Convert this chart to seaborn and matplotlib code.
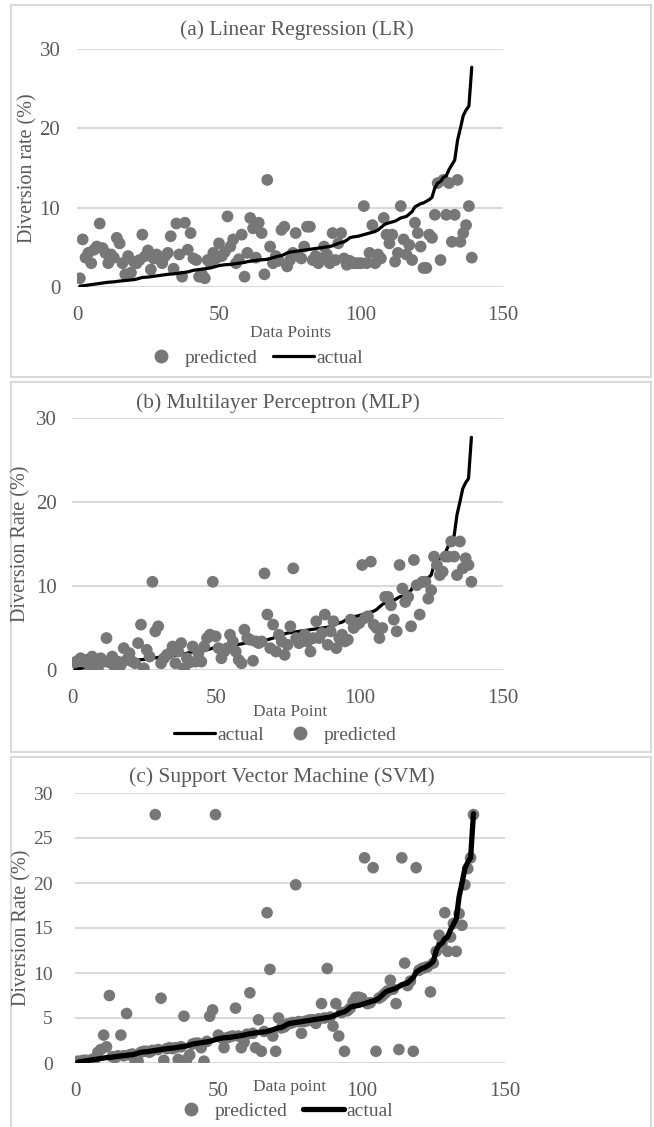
import numpy as np
import pandas as pd
import matplotlib
matplotlib.use("Agg")
import matplotlib.pyplot as plt
from matplotlib.patches import Rectangle
from matplotlib.lines import Line2D
import seaborn as sns

# ---------------- data ----------------
actual = [
    0.1, 0.15, 0.2, 0.25, 0.3, 0.35, 0.4, 0.45, 0.5, 0.55,
    0.6, 0.62, 0.65, 0.7, 0.75, 0.78, 0.8, 0.85, 0.9, 0.92,
    1.0, 1.1, 1.2, 1.22, 1.25, 1.3, 1.35, 1.4, 1.45, 1.5,
    1.55, 1.6, 1.62, 1.65, 1.7, 1.75, 1.8, 1.85, 1.9, 2.0,
    2.1, 2.15, 2.2, 2.25, 2.3, 2.35, 2.4, 2.5, 2.6, 2.7,
    2.75, 2.8, 2.82, 2.85, 2.9, 2.95, 3.0, 3.05, 3.1, 3.2,
    3.25, 3.3, 3.35, 3.4, 3.42, 3.45, 3.5, 3.6, 3.7, 3.8,
    3.9, 3.95, 4.1, 4.3, 4.4, 4.45, 4.5, 4.55, 4.6, 4.65,
    4.7, 4.75, 4.8, 4.85, 4.9, 4.95, 5.0, 5.05, 5.1, 5.2,
    5.35, 5.5, 5.6, 5.7, 5.9, 6.2, 6.3, 6.35, 6.4, 6.5,
    6.6, 6.7, 6.8, 6.9, 7.0, 7.2, 7.5, 7.8, 8.0, 8.1,
    8.2, 8.3, 8.5, 8.7, 8.8, 8.9, 9.2, 9.5, 10.1, 10.3,
    10.5, 10.6, 10.8, 11.0, 11.3, 12.5, 13.1, 13.3, 13.8, 14.0,
    14.8, 15.4, 16.0, 18.5, 20.0, 21.6, 22.3, 22.8, 27.7,
]

lr_pred = [
    1.1, 6.0, 3.7, 4.3, 3.0, 4.7, 5.1, 8.0, 4.9, 4.3,
    3.0, 4.1, 3.7, 6.2, 5.5, 3.0, 1.6, 3.9, 1.8, 3.2,
    3.0, 3.4, 6.6, 3.9, 4.6, 2.2, 3.6, 4.1, 3.5, 3.0,
    3.9, 4.3, 6.4, 2.3, 8.0, 4.1, 1.3, 8.1, 4.7, 6.8,
    3.6, 3.4, 1.3, 1.6, 1.1, 3.4, 3.0, 4.3, 3.6, 5.5,
    3.9, 4.4, 8.9, 5.1, 6.0, 3.0, 3.5, 6.6, 1.3, 4.3,
    8.7, 7.4, 3.7, 8.1, 6.8, 1.6, 13.5, 5.1, 3.0, 3.9,
    3.3, 7.2, 7.6, 2.6, 3.4, 4.3, 6.8, 3.9, 3.6, 5.1,
    7.6, 7.6, 3.4, 3.9, 3.0, 3.6, 5.1, 4.1, 3.0, 6.8,
    3.4, 5.5, 6.8, 3.6, 2.8, 3.3, 3.0, 3.0, 3.0, 3.0,
    10.2, 3.0, 4.3, 7.8, 3.0, 4.1, 3.6, 8.7, 6.6, 5.5,
    6.6, 3.2, 4.3, 10.2, 6.0, 4.1, 5.3, 3.4, 8.1, 6.8,
    5.1, 2.4, 2.4, 6.6, 6.2, 9.1, 13.1, 3.4, 13.5, 9.1,
    13.1, 5.7, 9.1, 13.5, 5.7, 6.8, 7.8, 10.2, 3.7,
]

mlp_pred = [
    0.9, 1.1, 1.4, 1.0, 1.2, 0.6, 1.6, 1.0, 0.2, 1.4,
    1.0, 3.8, 0.9, 1.6, 0.2, 1.0, 0.6, 2.6, 1.2, 2.0,
    1.0, 0.8, 3.2, 5.4, 0.2, 2.4, 1.6, 10.5, 4.6, 5.2,
    0.8, 1.4, 1.8, 2.0, 2.8, 0.8, 2.2, 3.2, 0.2, 1.4,
    0.9, 2.8, 1.0, 2.0, 1.0, 2.8, 3.8, 4.2, 10.5, 4.0,
    2.6, 1.4, 2.2, 2.6, 4.2, 3.4, 2.2, 1.2, 0.8, 4.8,
    3.8, 3.6, 1.1, 3.4, 3.2, 3.4, 11.5, 6.6, 2.6, 5.4,
    2.2, 4.2, 3.4, 1.8, 3.0, 5.2, 12.1, 3.8, 3.2, 3.4,
    4.2, 3.4, 2.2, 3.8, 5.8, 3.8, 4.4, 6.6, 3.0, 4.6,
    5.8, 2.6, 3.8, 4.2, 3.4, 3.6, 6.0, 5.0, 5.4, 5.6,
    12.5, 6.2, 6.4, 12.9, 5.4, 5.0, 3.8, 5.0, 8.7, 8.7,
    7.7, 6.0, 4.6, 12.5, 9.7, 8.1, 8.7, 5.2, 13.1, 10.1,
    6.6, 10.5, 10.5, 8.5, 9.5, 13.5, 12.5, 11.3, 11.7, 13.5,
    13.5, 15.3, 13.5, 11.3, 15.3, 12.1, 13.3, 12.5, 10.5,
]

svm_pred = [
    0.2, 0.2, 0.3, 0.3, 0.2, 0.4, 0.5, 1.2, 1.5, 3.1,
    1.8, 7.5, 0.7, 0.6, 0.8, 3.1, 0.8, 5.5, 0.9, 1.0,
    0.2, 0.2, 1.2, 1.3, 1.3, 1.2, 1.4, 27.6, 1.5, 7.2,
    0.3, 1.6, 1.7, 1.6, 1.7, 0.4, 1.8, 5.2, 0.4, 0.9,
    2.1, 2.2, 2.2, 1.7, 0.2, 2.4, 5.2, 5.9, 27.6, 3.1,
    2.8, 1.7, 2.8, 2.9, 3.0, 6.1, 3.0, 1.7, 2.3, 3.2,
    7.8, 3.3, 1.7, 4.8, 1.3, 3.5, 16.7, 10.4, 3.0, 1.3,
    5.0, 3.9, 4.0, 4.3, 4.4, 4.5, 19.8, 4.6, 3.3, 4.6,
    4.7, 4.8, 4.8, 4.4, 4.9, 6.6, 5.0, 10.5, 5.1, 4.1,
    6.6, 3.0, 5.6, 1.3, 5.8, 6.1, 6.8, 7.3, 7.3, 7.2,
    22.8, 6.6, 6.7, 21.7, 1.3, 7.2, 7.4, 7.7, 8.0, 9.2,
    8.2, 6.6, 1.5, 22.8, 11.1, 8.6, 9.1, 1.3, 21.7, 10.3,
    10.5, 10.6, 10.7, 7.9, 11.1, 12.4, 14.2, 13.3, 16.7, 12.4,
    14.0, 15.5, 12.4, 16.6, 15.3, 19.8, 21.6, 22.8, 27.6,
]

data_point = list(range(1, len(actual) + 1))

titles = ["(a) Linear Regression (LR)",
          "(b) Multilayer Perceptron (MLP)",
          "(c) Support Vector Machine (SVM)"]
ylabels = ["Diversion rate (%)", "Diversion Rate (%)", "Diversion Rate (%)"]
xlabels = ["Data Points", "Data Point", "Data point"]
yticks_sets = [[0, 10, 20, 30], [0, 10, 20, 30], [0, 5, 10, 15, 20, 25, 30]]
xticks = [0, 50, 100, 150]

# ---------------- style ----------------
sns.set_theme(style="white")
plt.rcParams["font.family"] = ["Liberation Serif", "DejaVu Serif"]

TXT = "#595959"
GRID = "#d9d9d9"
PT = "#777777"

fig = plt.figure(figsize=(6.54, 11.27), dpi=100)
W, H = 654.0, 1127.0


def fx(px):
    return px / W


def fy(py):
    return 1 - py / H


# panel frames (pixel coords: left, top, right, bottom)
frames = [(11, 5, 651, 377), (11, 382, 651, 752), (11, 757, 651, 1130)]
for (l, t, r, b) in frames:
    fig.patches.append(Rectangle((fx(l), fy(b)), fx(r - l), (b - t) / H,
                                 transform=fig.transFigure, fill=False,
                                 edgecolor=GRID, linewidth=1.5, zorder=0))

# axes positions in px: x0 (value 0), x1 (value 150), ytop (value 30), ybot (value 0)
axpos = [(77, 503, 49, 287), (72, 503, 418, 670), (75, 505, 793, 1063)]
preds = [lr_pred, mlp_pred, svm_pred]
line_lw = [2.3, 2.3, 3.8]
msize = [72, 72, 70]
line_on_top = [True, False, True]
legend_order = [["predicted", "actual"], ["actual", "predicted"], ["predicted", "actual"]]
legend_y = [358, 735, 1111]
legend_x = [252, 285, 282]
xlabel_y = [333, 712, 1087]
xlabel_x = [290, 290, 290]
ylabel_x = [28, 21, 22]
ytick_pad = [12, 11, 16]
ytick_size = [15, 15, 14]
title_x = [297, 278, 282]
title_y = [30, 403, 777]

for i in range(3):
    x0, x1, yt, yb = axpos[i]
    ax = fig.add_axes([fx(x0), fy(yb), fx(x1 - x0), (yb - yt) / H])
    df = pd.DataFrame({"Data point": data_point, "actual": actual, "predicted": preds[i]})
    z_line = 3 if line_on_top[i] else 1
    z_pts = 2
    sns.scatterplot(data=df, x="Data point", y="predicted", ax=ax, color=PT,
                    s=msize[i], edgecolor="none", zorder=z_pts, legend=False)
    sns.lineplot(data=df, x="Data point", y="actual", ax=ax, color="black",
                 linewidth=line_lw[i], zorder=z_line, legend=False)
    ax.set_xlim(0, 150)
    ax.set_ylim(0, 30)
    ax.set_xticks(xticks)
    ax.set_yticks(yticks_sets[i])
    ax.yaxis.grid(True, color=GRID, linewidth=1.5)
    ax.xaxis.grid(False)
    ax.set_axisbelow(True)
    for sp in ax.spines.values():
        sp.set_visible(False)
    ax.tick_params(axis="both", length=0, colors=TXT)
    ax.tick_params(axis="x", pad=14, labelsize=15)
    ax.tick_params(axis="y", pad=ytick_pad[i], labelsize=ytick_size[i])
    ax.set_xlabel("")
    ax.set_ylabel("")
    ax.patch.set_alpha(0)

    # title
    fig.text(fx(title_x[i]), fy(title_y[i]), titles[i], ha="center", va="center",
             fontsize=15.5, color=TXT)
    # axis labels
    fig.text(fx(ylabel_x[i]), fy((yt + yb) / 2), ylabels[i], rotation=90,
             ha="center", va="center", fontsize=14.5, color=TXT)
    fig.text(fx(xlabel_x[i]), fy(xlabel_y[i]), xlabels[i], ha="center", va="center",
             fontsize=12.5, color=TXT)

    handles = {
        "predicted": Line2D([], [], marker="o", linestyle="none", color=PT,
                            markersize=10, markeredgewidth=0),
        "actual": Line2D([], [], color="black", linewidth=line_lw[i]),
    }
    order = legend_order[i]
    fig.legend([handles[k] for k in order], order, loc="center",
               bbox_to_anchor=(fx(legend_x[i]), fy(legend_y[i])), ncol=2,
               frameon=False, fontsize=14, labelcolor=TXT, handlelength=2.1,
               handletextpad=0.15, columnspacing=0.8, borderpad=0)

fig.savefig("out.png", dpi=100)
